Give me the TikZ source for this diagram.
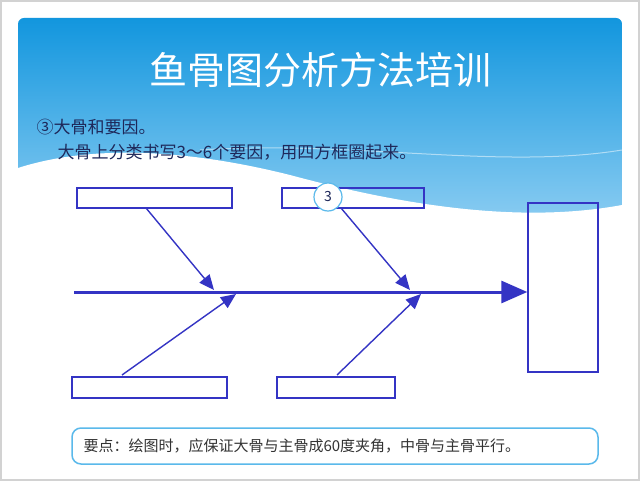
\documentclass[tikz,border=0pt]{standalone}
\usepackage{fontspec}
\setmainfont{Noto Sans CJK SC}
\usetikzlibrary{arrows.meta}
\definecolor{bone}{RGB}{52,52,196}
\definecolor{skyA}{RGB}{18,150,222}
\definecolor{skyB}{RGB}{140,205,242}
\definecolor{noteline}{RGB}{90,185,235}
\definecolor{txt}{RGB}{30,40,90}
\tikzset{
  causebox/.style={draw=bone, line width=1.4pt},
  smallbone/.style={draw=bone, line width=1.4pt, -{Triangle[length=15pt,width=13pt]}},
}
\begin{document}
\begin{tikzpicture}[x=1pt, y=-1pt]

  %--------------------------------------------
  % Fundo do slide
  %--------------------------------------------
  \useasboundingbox (0,0) rectangle (640,481);
  \fill[white] (0,0) rectangle (640,481);
  \draw[gray!35, line width=2pt] (1,1) rectangle (639,480);

  % Faixa azul do titulo com onda branca
  \shade[top color=skyA, bottom color=skyB, rounded corners=6pt]
    (18,18) rectangle (622,225);
  \fill[white] (18,168) .. controls (80,148) and (170,145) .. (290,175)
    .. controls (420,210) and (530,222) .. (622,205) -- (622,226) -- (18,226) -- cycle;
  \draw[white, opacity=.5, line width=1pt] (200,150) .. controls (350,140) and (500,170) .. (622,150);

  % Titulo e texto
  \node[white, font=\fontsize{38}{44}\selectfont] (title) at (320,70) {鱼骨图分析方法培训};
  \node[txt, anchor=west, font=\fontsize{17}{20}\selectfont] (line1) at (33,127) {③大骨和要因。};
  \node[txt, anchor=west, font=\fontsize{17}{20}\selectfont] (line2) at (54,152) {大骨上分类书写3～6个要因，用四方框圈起来。};

  %--------------------------------------------
  % Caixas dos fatores e da cabeca
  %--------------------------------------------
  \node[causebox, minimum width=155pt, minimum height=20pt] (tl) at (154.5,198) {};
  \node[causebox, minimum width=142pt, minimum height=20pt] (tm) at (353,198) {};
  \node[causebox, minimum width=155pt, minimum height=21pt] (bl) at (149.5,387.5) {};
  \node[causebox, minimum width=118pt, minimum height=21pt] (bm) at (336,387.5) {};
  \node[causebox, minimum width=70pt, minimum height=169pt] (head) at (563,287.5) {};
  \node[draw=noteline, fill=white, line width=1.2pt, circle, minimum size=28pt,
        inner sep=0pt, font=\fontsize{14}{16}\selectfont, text=txt] (num) at (328,197) {3};

  %--------------------------------------------
  % Espinha principal e ossos grandes
  %--------------------------------------------
  \coordinate (tail) at (74,292);
  \coordinate (j1) at (214,290);
  \coordinate (j2) at (410,290);
  \coordinate (k1) at (236,294);
  \coordinate (k2) at (421,294);
  \coordinate (s1) at (146,208);
  \coordinate (s2) at (341,208);
  \coordinate (u1) at (122,375);
  \coordinate (u2) at (337,375);
  \draw[bone, line width=3pt, -{Triangle[length=26pt,width=22pt]}] (tail) -- (head.west |- tail);
  \draw[smallbone] (s1) -- (j1);
  \draw[smallbone] (s2) -- (j2);
  \draw[smallbone] (u1) -- (k1);
  \draw[smallbone] (u2) -- (k2);

  %--------------------------------------------
  % Nota inferior
  %--------------------------------------------
  \draw[noteline, line width=1.5pt, rounded corners=9pt] (72,428) rectangle (598,464);
  \node[anchor=west, text=black!80, font=\fontsize{15}{18}\selectfont] (note) at (80,446)
    {要点：绘图时，应保证大骨与主骨成60度夹角，中骨与主骨平行。};

\end{tikzpicture}
\end{document}
